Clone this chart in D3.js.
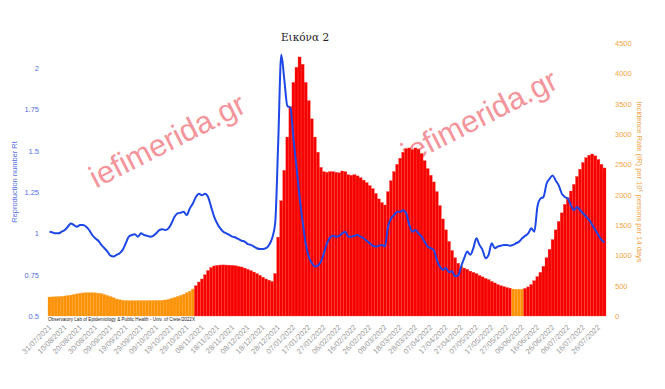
<!DOCTYPE html>
<html>
<head>
<meta charset="utf-8">
<script src="https://cdn.jsdelivr.net/npm/d3@7"></script>
<style>
  body { margin: 0; background: #fff; }
  svg { display: block; font-family: "Liberation Sans", Arial, sans-serif; }
</style>
</head>
<body>
<div id="chart"></div>
<script>
// ......................
// Data (one value every 2 days, starting 31/07/2021)
var startDate = "31/07/2021";
var stepDays = 2;

// Incidence rate per 10^5 persons per 14 days
var incidence = [
  313, 315, 318, 320, 325, 330, 338, 345, 355, 365, 375, 380, 383, 385, 385, 382, 377, 370, 355, 338,
  320, 300, 280, 268, 258, 255, 253, 254, 254, 255, 255, 254, 255, 256, 256, 257, 258, 260, 265, 275,
  290, 305, 322, 340, 360, 385, 410, 445, 500, 560, 610, 680, 750, 800, 825, 835, 840, 842, 840, 838,
  835, 828, 818, 808, 790, 770, 750, 725, 700, 670, 640, 610, 590, 570,
  700, 1300, 1900, 2400, 2950, 3450, 3850, 4100, 4270, 4150, 3850, 3550, 3250, 2950, 2700, 2450, 2380,
  2370, 2380, 2380, 2370, 2360, 2390, 2380, 2330, 2320, 2330, 2310, 2280, 2240, 2200, 2150, 2100, 2020,
  1930, 1870, 1830, 2050, 2230, 2380, 2500, 2600, 2700, 2760, 2770, 2740, 2770, 2750, 2680, 2560, 2430,
  2320, 2210, 2050, 1820, 1600, 1420, 1230, 1080, 960, 870, 820, 790, 770, 740, 720, 700, 670, 645, 620,
  600, 570, 545, 520, 500, 485, 470, 458, 445, 440, 440, 442, 455, 480, 520, 580, 650, 720, 820, 960,
  1100, 1260, 1420, 1560, 1700, 1840, 1950, 2060, 2170, 2300, 2420, 2530, 2610, 2650, 2670, 2640, 2580,
  2500, 2440
];

// Reproduction number Rt
var rt = [
  1.01, 1.005, 1.0, 1.0, 1.01, 1.02, 1.04, 1.06, 1.05, 1.04, 1.05, 1.05, 1.04, 1.02, 0.99, 0.97, 0.955,
  0.93, 0.91, 0.89, 0.865, 0.86, 0.87, 0.88, 0.9, 0.94, 0.98, 0.99, 0.995, 0.98, 1.0, 0.99, 0.985, 0.98,
  0.985, 1.0, 1.02, 1.025, 1.02, 1.03, 1.06, 1.1, 1.12, 1.125, 1.13, 1.11, 1.15, 1.18, 1.22, 1.24, 1.23,
  1.24, 1.22, 1.16, 1.1, 1.06, 1.03, 1.01, 1.0, 0.99, 0.98, 0.975, 0.965, 0.955, 0.95, 0.935, 0.93, 0.92,
  0.91, 0.905, 0.905, 0.91, 0.93, 0.97,
  1.06, 1.55, 2.08, 1.93, 1.77, 1.76, 1.57, 1.4, 1.22, 1.07, 0.94, 0.86, 0.82, 0.8, 0.805, 0.83, 0.88,
  0.94, 0.975, 0.985, 0.98, 0.985, 1.0, 1.01, 0.98, 0.98, 0.985, 0.99, 0.98, 0.97, 0.955, 0.94, 0.925,
  0.92, 0.925, 0.93, 0.92, 1.04, 1.09, 1.11, 1.13, 1.13, 1.14, 1.12, 1.05, 1.01, 1.02, 1.0, 0.98, 0.95,
  0.92, 0.91, 0.9, 0.84, 0.8, 0.78, 0.79, 0.765, 0.77, 0.74, 0.745, 0.8, 0.85, 0.89, 0.87, 0.91, 0.97,
  0.93, 0.9, 0.85, 0.87, 0.94, 0.91, 0.92, 0.925, 0.93, 0.93, 0.925, 0.93, 0.94, 0.95, 0.97, 0.985, 1.0,
  1.03, 1.01, 1.16, 1.21, 1.22, 1.3, 1.33, 1.35, 1.32, 1.29, 1.24, 1.22, 1.21, 1.17, 1.14, 1.16, 1.14,
  1.12, 1.1, 1.08, 1.05, 1.02, 0.99, 0.96, 0.945
];

var dateLabels = [
  "31/07/2021", "10/08/2021", "20/08/2021", "30/08/2021", "09/09/2021", "19/09/2021", "29/09/2021",
  "09/10/2021", "19/10/2021", "29/10/2021", "08/11/2021", "18/11/2021", "28/11/2021", "08/12/2021",
  "18/12/2021", "28/12/2021", "07/01/2022", "17/01/2022", "27/01/2022", "06/02/2022", "16/02/2022",
  "26/02/2022", "08/03/2022", "18/03/2022", "28/03/2022", "07/04/2022", "17/04/2022", "27/04/2022",
  "07/05/2022", "17/05/2022", "27/05/2022", "06/06/2022", "16/06/2022", "26/06/2022", "06/07/2022",
  "16/07/2022", "26/07/2022"
];

var rtTicks = [0.5, 0.75, 1, 1.25, 1.5, 1.75, 2];
var irTicks = [0, 500, 1000, 1500, 2000, 2500, 3000, 3500, 4000, 4500];
var orangeBelow = 450;

// ......................
// SVG area
var svgWidth = 665;
var svgHeight = 389;
var Margin = { top: 43, right: 59, bottom: 73, left: 48 };
var plotRight = svgWidth - Margin.right;
var plotBottom = svgHeight - Margin.bottom;

var svg = d3.select("#chart")
    .append("svg")
    .attr("width", svgWidth)
    .attr("height", svgHeight);

var parseDate = d3.timeParse("%d/%m/%Y");
var fmt = d3.timeFormat("%d/%m/%Y");
var t0 = parseDate(startDate);

var data = incidence.map((v, i) => ({
    date: d3.timeDay.offset(t0, i * stepDays),
    ir: v,
    rt: rt[i]
}));

// ......................
// Scales
var x = d3.scaleTime()
    .domain([t0, d3.timeDay.offset(t0, 366)])
    .range([Margin.left, plotRight]);

var yRt = d3.scaleLinear()
    .domain([0.5, 2])
    .range([plotBottom, 68]);

var yIr = d3.scaleLinear()
    .domain([0, 4500])
    .range([plotBottom, Margin.top]);

var barW = x(d3.timeDay.offset(t0, stepDays)) - x(t0);

// ......................
// Watermarks (behind the bars, like the reference)
var wm = [
    { x: 172, y: 150, a: -27 },
    { x: 484, y: 126, a: -27 }
];
svg.append("g")
    .selectAll("text")
    .data(wm)
    .enter()
    .append("text")
    .attr("transform", d => `translate(${d.x},${d.y}) rotate(${d.a})`)
    .attr("text-anchor", "middle")
    .attr("font-size", 31)
    .attr("fill", "#f3959b")
    .text("iefimerida.gr");

// ......................
// Bars: full width, with a thin lighter edge for the striped look
svg.append("g")
    .selectAll("rect")
    .data(data)
    .enter()
    .append("rect")
    .attr("x", d => x(d.date))
    .attr("y", d => yIr(d.ir))
    .attr("width", barW)
    .attr("height", d => plotBottom - yIr(d.ir))
    .attr("fill", d => d.ir < orangeBelow ? "#fc9208" : "#f50000")
    .attr("stroke", d => d.ir < orangeBelow ? "#ffab40" : "#ff4a3c")
    .attr("stroke-width", 0.35);

// ......................
// Rt line
var line = d3.line()
    .x(d => x(d.date) + barW / 2)
    .y(d => yRt(d.rt))
    .curve(d3.curveMonotoneX);

svg.append("path")
    .datum(data)
    .attr("d", line)
    .attr("fill", "none")
    .attr("stroke", "#1d47e6")
    .attr("stroke-width", 2)
    .attr("stroke-linejoin", "round");

// ......................
// Axes (labels only, no domain lines)
var leftAxis = svg.append("g")
    .attr("transform", `translate(${Margin.left - 6},0)`)
    .call(d3.axisLeft(yRt).tickValues(rtTicks).tickSize(0).tickFormat(d3.format("")));
leftAxis.select(".domain").remove();
leftAxis.selectAll("text")
    .attr("fill", "#5670e4")
    .attr("font-size", 7.5)
    .attr("font-family", "'Liberation Sans', Arial, sans-serif");

var rightAxis = svg.append("g")
    .attr("transform", `translate(${plotRight + 6},0)`)
    .call(d3.axisRight(yIr).tickValues(irTicks).tickSize(0).tickFormat(d3.format("d")));
rightAxis.select(".domain").remove();
rightAxis.selectAll("text")
    .attr("fill", "#f3a445")
    .attr("font-size", 7.5)
    .attr("font-family", "'Liberation Sans', Arial, sans-serif");

var bottomAxis = svg.append("g")
    .attr("transform", `translate(${barW / 2},${plotBottom + 4})`)
    .call(d3.axisBottom(x).tickValues(dateLabels.map(parseDate)).tickSize(0).tickFormat(fmt));
bottomAxis.select(".domain").remove();
bottomAxis.selectAll("text")
    .attr("fill", "#9a9a9a")
    .attr("font-size", 7.5)
    .attr("font-family", "'Liberation Sans', Arial, sans-serif")
    .attr("text-anchor", "end")
    .attr("y", 0)
    .attr("dy", "0.35em")
    .attr("transform", "translate(0,6) rotate(-45)");

// ......................
// Titles and labels
svg.append("text")
    .attr("x", 305)
    .attr("y", 41)
    .attr("text-anchor", "middle")
    .attr("font-family", "'DejaVu Serif', 'Liberation Serif', serif")
    .attr("font-size", 10.5)
    .attr("fill", "#222")
    .text("Εικόνα 2");

svg.append("text")
    .attr("transform", `translate(17,182) rotate(-90)`)
    .attr("text-anchor", "middle")
    .attr("font-size", 7.5)
    .attr("fill", "#5670e4")
    .text("Reproduction number Rt");

svg.append("text")
    .attr("transform", `translate(637,182) rotate(90)`)
    .attr("text-anchor", "middle")
    .attr("font-size", 7.5)
    .attr("fill", "#f3a445")
    .text("Incidence Rate (IR) per 10\u2075 persons per 14 days");

svg.append("text")
    .attr("x", Margin.left)
    .attr("y", plotBottom + 5)
    .attr("font-size", 4.6)
    .attr("fill", "#222")
    .text("Observatory Lab of Epidemiology & Public Health - Univ. of Crete/2022X");
</script>
</body>
</html>
